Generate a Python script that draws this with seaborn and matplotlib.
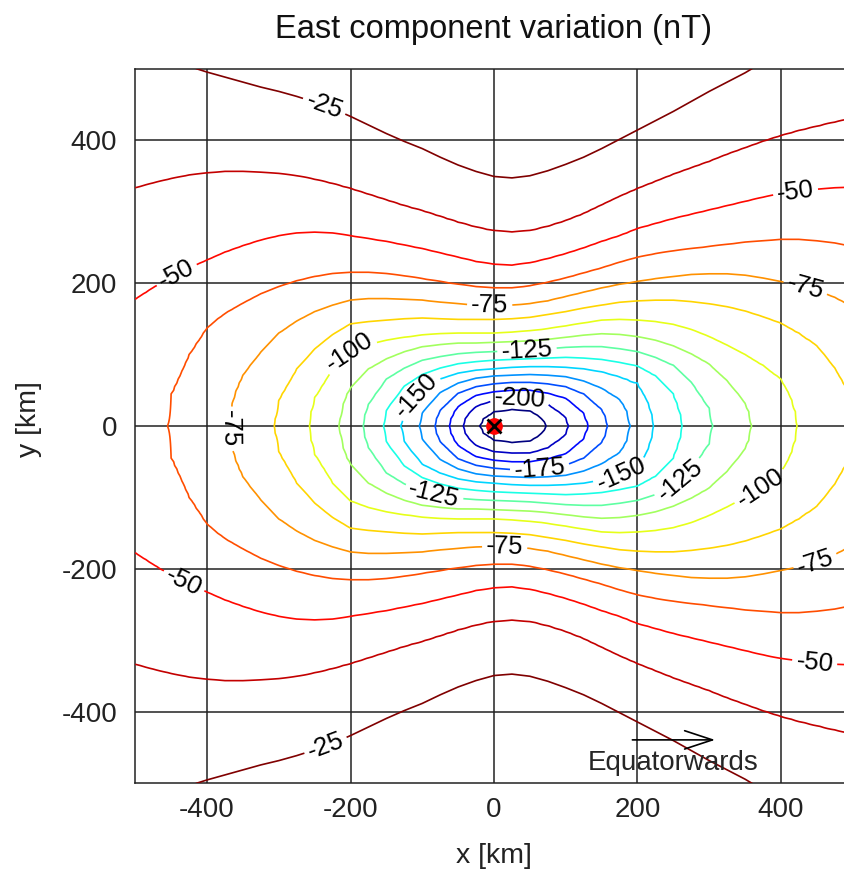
import numpy as np
import matplotlib
matplotlib.use("Agg")
import matplotlib.pyplot as plt
from matplotlib.colors import LinearSegmentedColormap
import seaborn as sns

na = np.nan

# contour levels of the east component (nT)
levels = [-212.5, -200, -187.5, -175, -162.5, -150, -137.5, -125, -112.5,
          -100, -87.5, -75, -62.5, -50, -37.5, -25]

# field along y = 0: x positions (km) where each contour crosses, plus the minimum
row0_x = [-500, -455, -369, -306, -257, -216, -182, -154, -130, -104, -82, -62, -43, -20,
          0, 26, 50, 73, 104, 131, 158, 190, 222, 262, 305, 359, 422, 500]
row0_nT = [-57.3, -62.5, -75, -87.5, -100, -112.5, -125, -137.5, -150, -162.5, -175, -187.5, -200, -212.5,
           -218.8, -221.4, -219.2, -212.5, -200, -187.5, -175, -162.5, -150, -137.5, -125, -112.5, -100, -88.5]

x_km = np.arange(-500, 501, 25)

# y (km, upper half) of each contour at those columns; the picture is mirror symmetric in y
#            -500 -475 -450 -425 -400 -375 -350 -325 -300 -275 -250 -225 -200 -175 -150 -125 -100  -75  -50  -25    0   25   50   75  100  125  150  175  200  225  250  275  300  325  350  375  400  425  450  475  500
y_m212_5 = [na, na, na, na, na, na, na, na, na, na, na, na, na, na, na, na, na, na, na, na, 20, 24, 22, na, na, na, na, na, na, na, na, na, na, na, na, na, na, na, na, na, na]
y_m200 = [na, na, na, na, na, na, na, na, na, na, na, na, na, na, na, na, na, na, na, 28, 36, 38, 38, 31, 13, na, na, na, na, na, na, na, na, na, na, na, na, na, na, na, na]
y_m187_5 = [na, na, na, na, na, na, na, na, na, na, na, na, na, na, na, na, na, na, 28, 43, 48, 50, 50, 46, 39, 19, na, na, na, na, na, na, na, na, na, na, na, na, na, na, na]
y_m175 = [na, na, na, na, na, na, na, na, na, na, na, na, na, na, na, na, na, 23, 46, 55, 59, 61, 61, 59, 55, 45, 24, na, na, na, na, na, na, na, na, na, na, na, na, na, na]
y_m162_5 = [na, na, na, na, na, na, na, na, na, na, na, na, na, na, na, na, 19, 47, 60, 67, 70, 71, 72, 71, 69, 63, 53, 38, na, na, na, na, na, na, na, na, na, na, na, na, na]
y_m150 = [na, na, na, na, na, na, na, na, na, na, na, na, na, na, na, 23, 54, 66, 74, 78, 80, 82, 83, 83, 82, 80, 76, 69, 60, na, na, na, na, na, na, na, na, na, na, na, na]
y_m137_5 = [na, na, na, na, na, na, na, na, na, na, na, na, na, na, 23, 56, 72, 81, 87, 90, 92, 93, 94, 95, 96, 95, 93, 89, 84, 71, 45, na, na, na, na, na, na, na, na, na, na]
y_m125 = [na, na, na, na, na, na, na, na, na, na, na, na, na, 31, 66, 81, 92, 97, 101, 103, 104, 105, 106, 108, 110, 111, 111, 108, 104, 96, 85, 62, 25, na, na, na, na, na, na, na, na]
y_m112_5 = [na, na, na, na, na, na, na, na, na, na, na, na, 54, 80, 94, 104, 111, 114, 116, 116, 117, 118, 119, 121, 124, 127, 129, 128, 125, 120, 112, 101, 87, 64, 33, na, na, na, na, na, na]
y_m100 = [na, na, na, na, na, na, na, na, na, na, 40, 80, 105, 114, 120, 124, 127, 129, 130, 130, 130, 131, 133, 136, 140, 144, 148, 149, 148, 146, 142, 135, 125, 113, 100, 85, 66, na, na, na, na]
y_m87_5 = [na, na, na, na, na, na, na, na, 37, 80, 108, 128, 143, 146, 148, 150, 151, 150, 149, 149, 149, 150, 152, 156, 160, 165, 169, 173, 175, 176, 176, 174, 171, 167, 161, 153, 144, 130, 113, 82, 38]
y_m75 = [na, na, na, na, na, na, 72, 104, 130, 147, 160, 169, 176, 178, 178, 177, 176, 173, 171, 169, 168, 169, 171, 175, 181, 187, 193, 198, 202, 206, 209, 212, 213, 213, 211, 207, 202, 197, 190, 180, 167]
y_m62_5 = [na, na, 45, 100, 138, 158, 172, 185, 195, 203, 209, 213, 215, 215, 213, 210, 206, 202, 198, 195, 193, 193, 196, 201, 207, 214, 221, 229, 236, 241, 245, 248, 251, 254, 257, 259, 261, 261, 259, 256, 251]
y_m50 = [178, 194, 209, 221, 232, 243, 252, 260, 266, 270, 271, 270, 266, 262, 258, 253, 248, 242, 236, 230, 226, 225, 228, 234, 241, 249, 258, 266, 276, 283, 290, 296, 302, 308, 314, 320, 325, 328, 331, 333, 334]
y_m37_5 = [333, 340, 346, 351, 354, 356, 356, 355, 353, 350, 345, 339, 332, 324, 316, 308, 301, 293, 285, 278, 273, 271, 273, 279, 287, 297, 309, 321, 332, 342, 352, 361, 370, 380, 389, 398, 406, 413, 419, 425, 430]
y_m25 = [525, 519, 512, 503, 495, 488, 481, 474, 468, 461, 453, 444, 433, 421, 409, 398, 388, 376, 365, 356, 349, 347, 350, 357, 366, 376, 388, 401, 414, 427, 440, 454, 468, 481, 494, 509, 526, 542, 558, 572, 585]

crossings = [y_m212_5, y_m200, y_m187_5, y_m175, y_m162_5, y_m150, y_m137_5, y_m125,
             y_m112_5, y_m100, y_m87_5, y_m75, y_m62_5, y_m50, y_m37_5, y_m25]

# extra readings close to the rounded ends of the closed contours
tip_level = [-212.5, -212.5, -212.5, -212.5, -212.5, -212.5,
             -200, -200, -200, -200,
             -187.5, -187.5, -187.5,
             -175, -175, -175,
             -162.5, -162.5, -162.5,
             -150, -150, -150, -150,
             -137.5, -137.5, -137.5,
             -125, -125,
             -112.5, -112.5, -112.5, -112.5, -112.5,
             -100, -100, -100, -100,
             -87.5, -75, -75, -75, -62.5]
tip_x = [-18, -15, -10, 63, 68, 71,
         -41, -38, -33, 102,
         -60, -57, 129,
         -80, 153, 156,
         -102, 185, 188,
         -128, 212, 217, 220,
         -152, 257, 260,
         -180, 303,
         -214, -211, -206, 354, 357,
         -255, 412, 417, 420,
         -304, -367, -364, -359, -453]
tip_y = [6, 10, 14, 14, 10, 6,
         9, 15, 21, 9,
         11, 18, 11,
         12, 19, 12,
         13, 22, 14,
         14, 40, 29, 18,
         16, 29, 18,
         17, 16,
         18, 30, 43, 24, 15,
         21, 45, 33, 21,
         20, 24, 38, 52, 28]

# build the grid that contour() needs from the readings
x_fine = np.arange(-500, 501, 5.0)
y_rows = np.arange(0, 501, 5.0)
curve_on_fine = []
for lev, ycol in zip(levels, crossings):
    px = [x for x, y in zip(x_km, ycol) if not np.isnan(y)]
    py = [y for y in ycol if not np.isnan(y)]
    px += [x for x, v in zip(row0_x, row0_nT) if v == lev]
    py += [0.0 for v in row0_nT if v == lev]
    px += [x for x, l in zip(tip_x, tip_level) if l == lev]
    py += [y for y, l in zip(tip_y, tip_level) if l == lev]
    order = np.argsort(px)
    px = np.array(px, float)[order]
    py = np.array(py, float)[order]
    yf = np.interp(x_fine, px, py)
    yf[(x_fine < px[0]) | (x_fine > px[-1])] = na
    curve_on_fine.append(yf)

v_row0 = np.interp(x_fine, row0_x, row0_nT)
half = np.empty((len(y_rows), len(x_fine)))
for j in range(len(x_fine)):
    ys = [0.0]
    vs = [v_row0[j]]
    for lev, yf in zip(levels, curve_on_fine):
        if yf[j] > 0.5:
            ys.append(yf[j])
            vs.append(lev)
    # weaker field beyond the -25 line, same spacing as the last two lines
    ys.append(2 * ys[-1] - ys[-2])
    vs.append(-12.5)
    half[:, j] = np.interp(y_rows, ys, vs)

y_full = np.concatenate([-y_rows[:0:-1], y_rows])
z_full = np.vstack([half[:0:-1], half])

sns.set_style("white")
plt.rcParams["font.family"] = ["Liberation Sans", "DejaVu Sans"]
plt.rcParams["axes.unicode_minus"] = False

jet = LinearSegmentedColormap.from_list(
    "jet_matlab", [(0, (0, 0, 0.5)), (1 / 8, (0, 0, 1)), (3 / 8, (0, 1, 1)),
                   (5 / 8, (1, 1, 0)), (7 / 8, (1, 0, 0)), (1, (0.5, 0, 0))])
colors = [jet(i / (len(levels) - 1)) for i in range(len(levels))]
lab_idx = [i for i, v in enumerate(levels) if v == int(v)]
plain_idx = [i for i in range(len(levels)) if i not in lab_idx]

fig = plt.figure(figsize=(8.45, 8.69), dpi=100)
ax = fig.add_axes([0.16006, 0.09839, 0.84911, 0.82278])

ax.contour(x_fine, y_full, z_full, levels=[levels[i] for i in plain_idx],
           colors=[colors[i] for i in plain_idx], linewidths=1.2, zorder=3)
cs = ax.contour(x_fine, y_full, z_full, levels=[levels[i] for i in lab_idx],
                colors=[colors[i] for i in lab_idx], linewidths=1.2, zorder=3)

label_pos = [(-235, 452), (420, 330), (-449, 225), (433, 190), (-6, 169), (-198, 99),
             (46, 106), (-106, 41), (36, 41), (-365, -3), (64, -62), (176, -62),
             (259, -76), (378, -101), (447, -187), (-82, -87), (15, -166),
             (-438, -229), (447, -330), (-235, -446)]
ax.clabel(cs, manual=label_pos, inline=True, inline_spacing=4, fontsize=18.5,
          colors="k", fmt=lambda v: f"{v:.0f}")

# observation point
ax.plot(0, 0, "o", color="red", markersize=11, zorder=5)
ax.plot(0, 0, "x", color="black", markersize=10, mew=2, zorder=6)

ax.annotate("", xy=(312, -439), xytext=(189, -439),
            arrowprops=dict(arrowstyle="->,head_length=1.0,head_width=0.33", lw=1.2,
                            color="k", mutation_scale=20), zorder=6)
ax.text(249, -481, "Equatorwards", ha="center", va="baseline", fontsize=20, zorder=6)

ax.set_xlim(-500, 500)
ax.set_ylim(-500, 500)
ticks = [-400, -200, 0, 200, 400]
ax.set_xticks(ticks)
ax.set_yticks(ticks)
ax.tick_params(length=0, labelsize=20, colors="#222222")
ax.tick_params(axis="x", pad=9.5)
ax.tick_params(axis="y", pad=13)
ax.grid(True, color="#222222", lw=1.1)
ax.set_axisbelow(True)
for s in ax.spines.values():
    s.set_color("#222222")
    s.set_linewidth(1.1)

ax.set_title("East component variation (nT)", fontsize=23.5, pad=22, color="#111111")
ax.set_xlabel("x [km]", fontsize=20.5, color="#222222")
ax.set_ylabel("y [km]", fontsize=20.5, color="#222222")
ax.xaxis.set_label_coords(0.5, -0.083)
ax.yaxis.set_label_coords(-0.13, 0.51)

fig.savefig("out.png", dpi=100)
